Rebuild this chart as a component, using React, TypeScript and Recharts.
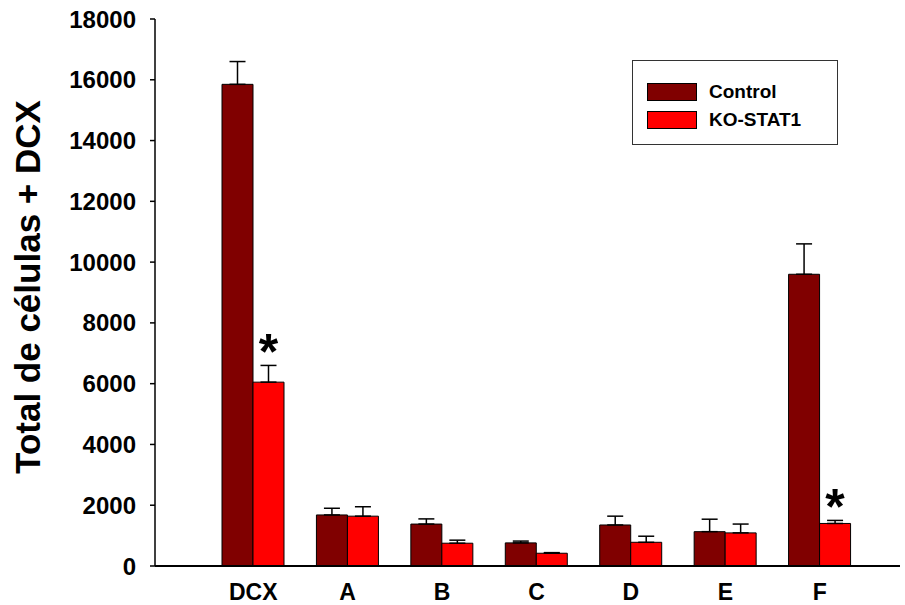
import { Bar, BarChart, ErrorBar, LabelList, XAxis, YAxis } from "recharts";

const categories = ["DCX", "A", "B", "C", "D", "E", "F"];
const controlValues = [15850, 1680, 1380, 760, 1350, 1130, 9600];
const controlErrors = [750, 220, 170, 60, 290, 410, 1000];
const koValues = [6050, 1640, 750, 420, 780, 1090, 1400];
const koErrors = [550, 310, 100, 20, 200, 290, 100];
const koSignificant = [true, false, false, false, false, false, true];
const yTicks = [0, 2000, 4000, 6000, 8000, 10000, 12000, 14000, 16000, 18000];

const data = categories.map((name, i) => ({
  name,
  control: controlValues[i],
  controlErr: [0, controlErrors[i]],
  ko: koValues[i],
  koErr: [0, koErrors[i]],
  sig: koSignificant[i] ? "*" : "",
}));

const font = "'Liberation Sans', Arial, sans-serif";

function Star(props: any) {
  const { x, y, width, height, index } = props;
  if (!koSignificant[index]) return null;
  const errPx = (koErrors[index] * height) / koValues[index];
  return (
    <text
      x={x + width / 2}
      y={y - errPx + 4}
      textAnchor="middle"
      fontFamily={font}
      fontWeight="bold"
      fontSize={50}
      fill="#000"
    >
      *
    </text>
  );
}

function YLabel() {
  return (
    <text
      transform="rotate(-90)"
      x={-287}
      y={40}
      textAnchor="middle"
      fontFamily={font}
      fontWeight="bold"
      fontSize={35}
      fill="#000"
    >
      Total de células + DCX
    </text>
  );
}

function LegendBox() {
  const items = [
    { label: "Control", color: "#800000" },
    { label: "KO-STAT1", color: "#ff0000" },
  ];
  return (
    <div
      style={{
        position: "absolute",
        left: 632,
        top: 60,
        border: "1.5px solid #333",
        width: 206,
        height: 85,
        boxSizing: "border-box",
        paddingTop: 17,
        paddingLeft: 14,
        fontFamily: font,
        fontWeight: "bold",
        fontSize: 19,
      }}
    >
      {items.map((it) => (
        <div key={it.label} style={{ display: "flex", alignItems: "center", height: 28 }}>
          <span
            style={{
              display: "inline-block",
              width: 48,
              height: 16,
              background: it.color,
              border: "1px solid #000",
              marginRight: 12,
            }}
          />
          {it.label}
        </div>
      ))}
    </div>
  );
}

export default function App() {
  return (
    <div style={{ position: "absolute", left: 0, top: 0, width: 905, height: 605, background: "#fff" }}>
      <BarChart
        width={905}
        height={605}
        data={data}
        margin={{ top: 19, right: 5, bottom: 0, left: 0 }}
        barGap={0}
        barSize={31}
      >
        <XAxis
          dataKey="name"
          height={39}
          padding={{ left: 51, right: 33 }}
          tickLine={false}
          axisLine={{ stroke: "#000", strokeWidth: 2 }}
          tick={{ fill: "#000", fontSize: 23, fontWeight: "bold", fontFamily: font }}
          tickMargin={12}
        />
        <YAxis
          width={155}
          domain={[0, 18000]}
          ticks={yTicks}
          interval={0}
          tickSize={5}
          axisLine={{ stroke: "#000", strokeWidth: 1.5 }}
          tickLine={{ stroke: "#000", strokeWidth: 1.5 }}
          tick={{ fill: "#000", fontSize: 24, fontWeight: "bold", fontFamily: font }}
          tickMargin={14}
          label={{ content: () => <YLabel /> }}
        />
        <Bar dataKey="control" name="Control" fill="#800000" stroke="#000" strokeWidth={1} isAnimationActive={false}>
          <ErrorBar dataKey="controlErr" width={8} stroke="#000" strokeWidth={1.5} direction="y" isAnimationActive={false} />
        </Bar>
        <Bar dataKey="ko" name="KO-STAT1" fill="#ff0000" stroke="#000" strokeWidth={1} isAnimationActive={false}>
          <ErrorBar dataKey="koErr" width={8} stroke="#000" strokeWidth={1.5} direction="y" isAnimationActive={false} />
          <LabelList dataKey="sig" content={<Star />} />
        </Bar>
      </BarChart>
      <LegendBox />
    </div>
  );
}
